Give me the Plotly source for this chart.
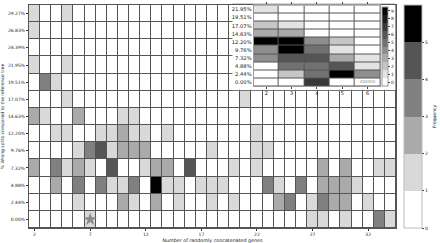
import plotly.graph_objects as go

# ---------------- data ----------------
genes = list(range(2, 35))
split_labels = ["0.00%", "2.44%", "4.88%", "7.32%", "9.76%", "12.20%", "14.63%",
                "17.07%", "19.51%", "21.95%", "24.39%", "26.83%", "29.27%"]
gene_ticks = [2, 7, 12, 17, 22, 27, 32]

# frequency per row (bottom 0.00% -> top 29.27%), columns = genes 2..34
#            2 3 4 5 6 7 8 9 10 11 12 13 14 15 16 17 18 19 20 21 22 23 24 25 26 27 28 29 30 31 32 33 34
row_000 = [0,0,0,0,0,1,0,0,0, 0, 0, 0, 0, 0, 0, 0, 0, 0, 0, 0, 0, 0, 0, 0, 0, 1, 1, 0, 1, 0, 0, 3, 1]
row_244 = [0,0,0,0,1,0,0,0,2, 1, 0, 2, 0, 1, 0, 0, 1, 0, 1, 0, 0, 0, 2, 3, 0, 1, 3, 2, 2, 0, 1, 0, 0]
row_488 = [0,0,2,0,3,0,3,1,1, 3, 0, 5, 1, 1, 0, 1, 1, 1, 0, 0, 0, 3, 1, 0, 3, 0, 2, 2, 2, 1, 0, 0, 0]
row_732 = [2,0,3,1,2,1,0,4,0, 0, 1, 2, 2, 0, 4, 0, 0, 0, 1, 0, 1, 0, 0, 0, 0, 0, 2, 0, 2, 0, 0, 1, 1]
row_976 = [0,0,0,0,1,3,4,1,2, 2, 2, 0, 0, 0, 0, 0, 1, 0, 0, 0, 1, 1, 0, 0, 0, 0, 0, 0, 0, 0, 0, 0, 0]
row_1220 = [0,0,1,1,0,0,1,1,2, 1, 1, 0, 1, 0, 0, 0, 0, 0, 0, 0, 1, 0, 0, 0, 0, 0, 0, 0, 0, 0, 0, 0, 0]
row_1463 = [2,1,0,0,2,0,0,0,1, 1, 0, 0, 0, 0, 0, 0, 0, 0, 0, 0, 0, 0, 0, 0, 0, 0, 0, 0, 0, 0, 0, 0, 0]
row_1707 = [0,0,0,1,0,0,0,0,0, 0, 0, 0, 0, 0, 0, 0, 0, 0, 0, 1, 0, 0, 0, 0, 0, 0, 0, 0, 0, 0, 0, 0, 0]
row_1951 = [0,3,1,0,0,0,0,0,0, 0, 0, 0, 0, 0, 0, 0, 0, 0, 0, 0, 0, 0, 0, 0, 0, 0, 0, 0, 0, 0, 0, 0, 0]
row_2195 = [1,0,0,1,0,0,0,0,0, 0, 0, 0, 0, 0, 0, 0, 0, 0, 0, 0, 0, 0, 0, 0, 0, 0, 0, 0, 0, 0, 0, 0, 0]
row_2439 = [0,0,0,0,0,0,0,0,0, 0, 0, 0, 0, 0, 0, 0, 0, 0, 0, 0, 0, 0, 0, 0, 0, 0, 0, 0, 0, 0, 0, 0, 0]
row_2683 = [1,0,0,0,0,0,0,0,0, 0, 0, 0, 0, 0, 0, 0, 0, 0, 0, 0, 0, 0, 0, 0, 0, 0, 0, 0, 0, 0, 0, 0, 0]
row_2927 = [1,0,0,1,0,0,0,0,0, 0, 0, 0, 0, 0, 0, 0, 0, 0, 0, 0, 0, 0, 0, 0, 0, 0, 0, 0, 0, 0, 0, 0, 0]
freq = [row_000, row_244, row_488, row_732, row_976, row_1220, row_1463,
        row_1707, row_1951, row_2195, row_2439, row_2683, row_2927]

star_gene = 7
star_split = "0.00%"

# inset: genes 2..6, rows 0.00% .. 21.95%
inset_genes = [2, 3, 4, 5, 6]
inset_labels = ["0.00%", "2.44%", "4.88%", "7.32%", "9.76%", "12.20%",
                "14.63%", "17.07%", "19.51%", "21.95%"]
inset_col2 = [0, 0, 0, 4, 4, 9, 3, 2, 0, 1]
inset_col3 = [0, 2, 5, 6, 9, 9, 3, 1, 0, 0]
inset_col4 = [7, 5, 5, 6, 5, 4, 0, 0, 0, 0]
inset_col5 = [0, 9, 6, 3, 1, 2, 0, 0, 0, 0]
inset_col6 = [0, 4, 1, 1, 0, 0, 0, 0, 0, 0]
inset_cols = [inset_col2, inset_col3, inset_col4, inset_col5, inset_col6]
inset_freq = [[c[r] for c in inset_cols] for r in range(len(inset_labels))]
inset_mark_gene = 6
inset_mark_split = "0.00%"
inset_mark_text = "000000"

# ---------------- styles ----------------
main_colors = ["#ffffff", "#d9d9d9", "#aaaaaa", "#808080", "#555555", "#000000"]
main_cs = []
n = len(main_colors)
for k, c in enumerate(main_colors):
    main_cs.append([k / n, c])
    main_cs.append([(k + 1) / n - (1e-6 if k < n - 1 else 0), c])

inset_cs = []
m = 10
for k in range(m):
    g = round(255 * (1 - k / (m - 1)))
    c = f"rgb({g},{g},{g})"
    inset_cs.append([k / m, c])
    inset_cs.append([(k + 1) / m - (1e-6 if k < m - 1 else 0), c])

FONT = "DejaVu Sans"
ycat = list(range(len(split_labels)))
icat = list(range(len(inset_labels)))

fig = go.Figure()

fig.add_trace(go.Heatmap(
    x=genes, y=ycat, z=freq, colorscale=main_cs, zmin=0, zmax=6,
    xgap=1, ygap=1, hoverinfo="skip",
    colorbar=dict(
        x=1.0216, xanchor="left", xpad=0, y=0.5, yanchor="middle", len=1.0, ypad=0,
        thickness=18, outlinecolor="#bbbbbb", outlinewidth=1,
        tickvals=[0, 1, 2, 3, 4, 5], ticks="outside", ticklen=2, tickcolor="#333",
        tickfont=dict(family=FONT, size=4.5, color="#222"),
        title=dict(text="Frequency", side="right", font=dict(family=FONT, size=4.5, color="#222")),
    ),
    xaxis="x", yaxis="y",
))

fig.add_trace(go.Scatter(
    x=[star_gene], y=[split_labels.index(star_split)], mode="markers",
    marker=dict(symbol="star", size=10, color="#8a8a8a", line=dict(width=0)),
    xaxis="x", yaxis="y", showlegend=False, hoverinfo="skip",
))

fig.add_trace(go.Heatmap(
    x=inset_genes, y=icat, z=inset_freq, colorscale=inset_cs, zmin=-0.5, zmax=9.5,
    xgap=1, ygap=1, hoverinfo="skip",
    colorbar=dict(
        x=0.962, xanchor="left", xpad=0, y=0.814, yanchor="middle", len=0.354, ypad=0,
        thickness=6, outlinecolor="#999999", outlinewidth=1,
        tickvals=list(range(10)), ticks="outside", ticklen=2, tickcolor="#333",
        tickfont=dict(family=FONT, size=4.5, color="#222"),
    ),
    xaxis="x2", yaxis="y2",
))

fig.add_trace(go.Scatter(
    x=[inset_mark_gene], y=[inset_labels.index(inset_mark_split)], mode="text",
    text=[inset_mark_text], textfont=dict(family=FONT, size=4, color="#888"),
    xaxis="x2", yaxis="y2", showlegend=False, hoverinfo="skip",
))

fig.update_layout(
    width=440, height=243,
    margin=dict(l=29, r=41, t=2, b=15, pad=0),
    paper_bgcolor="white", plot_bgcolor="#555555",
    showlegend=False,
    xaxis=dict(
        range=[1.5, 34.5], tickvals=gene_ticks, ticks="outside", ticklen=2, tickcolor="#333",
        showgrid=False, zeroline=False, showline=True, mirror=True, linecolor="#555", linewidth=1,
        tickfont=dict(family=FONT, size=4.5, color="#222"),
        title=dict(text="Number of randomly concatenated genes", standoff=2,
                   font=dict(family=FONT, size=4.8, color="#222")),
        automargin=False,
    ),
    yaxis=dict(
        range=[-0.5, 12.5], tickvals=ycat, ticktext=split_labels, ticks="outside", ticklen=2,
        tickcolor="#333", showgrid=False, zeroline=False, showline=True, mirror=True,
        linecolor="#555", linewidth=1,
        tickfont=dict(family=FONT, size=4.5, color="#222"),
        title=dict(text="% Wrong splits compared to the reference tree", standoff=3,
                   font=dict(family=FONT, size=4.5, color="#222")),
        automargin=False,
    ),
    xaxis2=dict(
        domain=[0.612, 0.957], anchor="y2", range=[1.5, 6.5], tickvals=inset_genes,
        ticks="outside", ticklen=2, tickcolor="#444", showgrid=False, zeroline=False,
        showline=True, mirror="ticks", linecolor="#999", linewidth=1,
        tickfont=dict(family=FONT, size=5, color="#222"),
    ),
    yaxis2=dict(
        domain=[0.635, 0.998], anchor="x2", range=[-0.5, 9.5], tickvals=icat,
        ticktext=inset_labels, ticks="", showgrid=False, zeroline=False,
        showline=True, mirror=True, linecolor="#999", linewidth=1,
        tickfont=dict(family=FONT, size=5.2, color="#222"),
    ),
    shapes=[
        dict(type="rect", xref="x2 domain", yref="y2 domain", x0=-0.169, x1=1.118,
             y0=-0.043, y1=1.018, fillcolor="white", line=dict(color="#aaaaaa", width=1),
             layer="below"),
        dict(type="rect", xref="x2 domain", yref="y2 domain", x0=0, x1=1, y0=0, y1=1,
             fillcolor="#bbbbbb", line=dict(width=0), layer="below"),
    ],
)

fig.write_html("out.html", config={"displayModeBar": False},
               post_script="document.body.style.margin='0';")
